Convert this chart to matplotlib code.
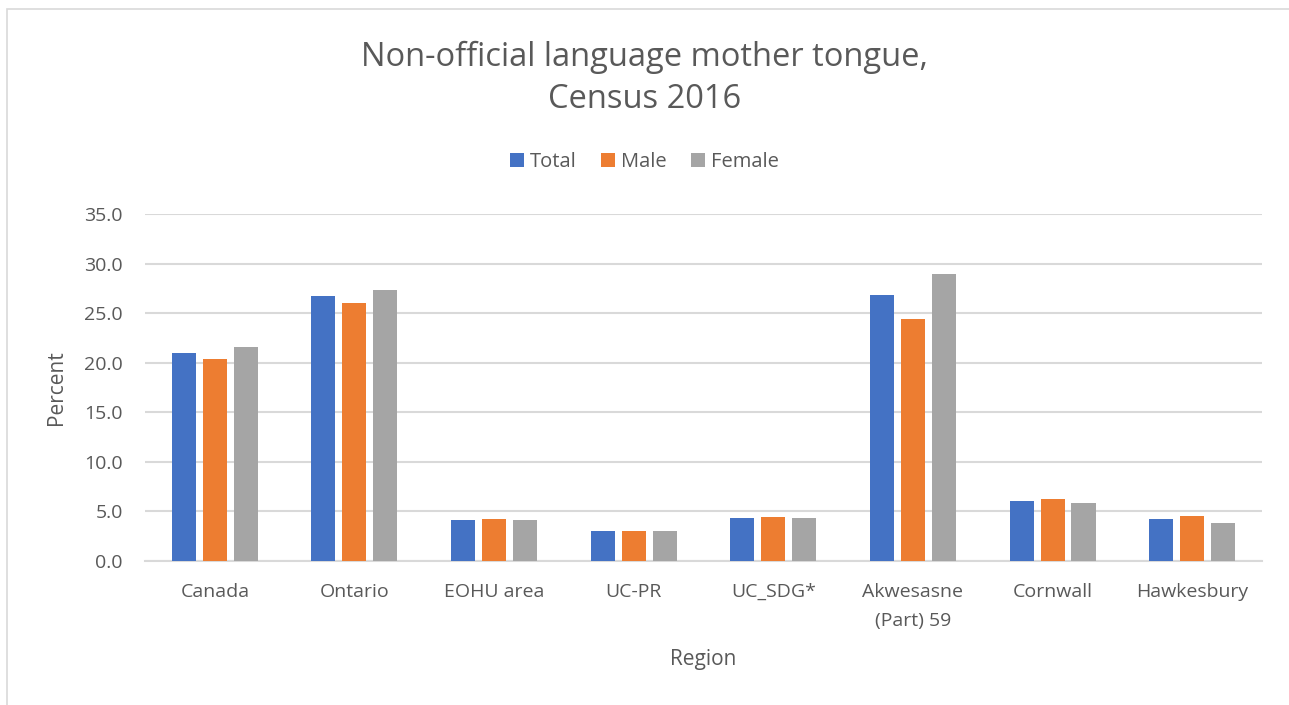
import numpy as np
import matplotlib.pyplot as plt
from matplotlib.patches import Rectangle

# data
regions = ['Canada', 'Ontario', 'EOHU area', 'UC-PR', 'UC_SDG*',
           'Akwesasne\n(Part) 59', 'Cornwall', 'Hawkesbury']
total = [21.0, 26.7, 4.15, 3.05, 4.3, 26.8, 6.0, 4.2]
male = [20.4, 26.0, 4.2, 3.0, 4.4, 24.4, 6.2, 4.5]
female = [21.6, 27.3, 4.1, 3.05, 4.3, 28.9, 5.8, 3.8]
series_names = ['Total', 'Male', 'Female']
colors = ['#4472C4', '#ED7D31', '#A5A5A5']

plt.rcParams['font.family'] = ['Open Sans', 'DejaVu Sans']
text_col = '#595959'

fig = plt.figure(figsize=(12.89, 7.05), dpi=100)
ax = fig.add_axes([0.1125, 0.2043, 0.8665, 0.4922])

x = np.arange(len(regions))
step = 0.222
width = 0.172
for i, (vals, name) in enumerate(zip([total, male, female], series_names)):
    ax.bar(x + (i - 1) * step, vals, width, color=colors[i], label=name, zorder=3)

ax.set_xlim(-0.5, len(regions) - 0.5)
ax.set_ylim(0, 35)
ax.set_yticks(np.arange(0, 36, 5))
ax.set_yticklabels(['%.1f' % v for v in np.arange(0, 36, 5)])
ax.set_xticks(x)
ax.set_xticklabels(regions, va='top', linespacing=1.75)
ax.tick_params(axis='both', length=0, labelsize=14, colors=text_col)
ax.tick_params(axis='x', pad=16)
ax.tick_params(axis='y', pad=16)
ax.yaxis.grid(True, color='#d9d9d9', linewidth=1.5, zorder=0)
for s in ['top', 'right', 'left']:
    ax.spines[s].set_visible(False)
ax.spines['bottom'].set_color('#d9d9d9')
ax.spines['bottom'].set_linewidth(1.5)

ax.set_ylabel('Percent', fontsize=15, color=text_col, labelpad=12)
ax.set_xlabel('Region', fontsize=15, color=text_col, labelpad=14)

fig.text(0.5, 0.889, 'Non-official language mother tongue,\nCensus 2016',
         ha='center', va='center', fontsize=23.5, color=text_col, linespacing=1.35)

ax.legend(loc='center', bbox_to_anchor=(0.5, 0.770), bbox_transform=fig.transFigure,
          ncol=3, frameon=False, fontsize=14.5, handlelength=0.7, handleheight=0.7,
          handletextpad=0.3, columnspacing=1.2, labelcolor=text_col)

# thin chart border (top and left edges show in the reference)
fig.patches.append(Rectangle((0.0055, -0.02), 1.1, 1.007, transform=fig.transFigure,
                             fill=False, edgecolor='#d9d9d9', linewidth=1.2))

fig.savefig('out.png', dpi=100)
